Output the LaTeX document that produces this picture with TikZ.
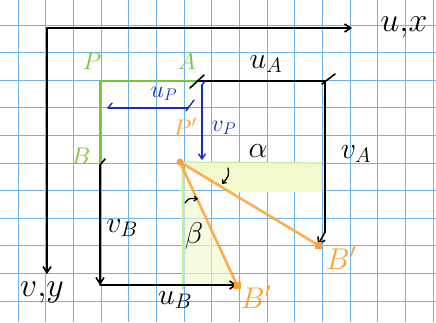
\RequirePackage{fix-cm}
\documentclass[tikz,border=0pt]{standalone}
\usetikzlibrary{arrows.meta}
\definecolor{gridblue}{RGB}{110,180,235}
\definecolor{pgreen}{RGB}{115,200,55}
\definecolor{porange}{RGB}{255,160,50}
\definecolor{pblue}{RGB}{25,45,185}
\definecolor{shadecol}{RGB}{242,250,205}
\definecolor{faintgreen}{RGB}{195,238,150}
\begin{document}
\begin{tikzpicture}[x=1pt,y=-1pt,
  gridline/.style={gridblue,line width=0.9pt},
  ink/.style={black,line width=1.6pt,line cap=round},
  greenline/.style={pgreen,line width=2.2pt},
  blueline/.style={pblue,line width=1.4pt,line cap=round},
  orangeline/.style={porange,line width=2.6pt,opacity=0.85,line cap=round},
  tip/.style={-{Straight Barb[length=6pt,width=8pt]}},
  dot/.style={fill=porange,inner sep=0pt,minimum size=7pt,draw=none},
  lab/.style={inner sep=0pt,font=\fontsize{30}{32}\selectfont},
  biglab/.style={inner sep=0pt,font=\fontsize{34}{36}\selectfont},
  smalllab/.style={inner sep=0pt,font=\fontsize{24}{26}\selectfont}]
\useasboundingbox (0,0) rectangle (436,322);
\fill[white] (0,0) rectangle (436,322);
% grid
\foreach \i in {0,...,15} \draw[gridline] ({18+27.67*\i},0) -- ++(0,322);
\foreach \j in {0,...,10} \draw[gridline] (0,{25+27.6*\j}) -- ++(436,0);
% points
\coordinate (O) at (47,28);
\coordinate (Xe) at (352,28);
\coordinate (Ye) at (47,274);
\coordinate (P) at (100,81);
\coordinate (A) at (197,81);
\coordinate (B) at (100,163);
\coordinate (Ac) at (325,81);
\coordinate (Ad) at (325,232);
\coordinate (Pp) at (180,162);
\coordinate (Ap) at (318,245);
\coordinate (Bp) at (237,285);
\coordinate (Bt) at (100,165);
\coordinate (Bc) at (100,285);
\coordinate (H) at (322,163);
\coordinate (V) at (183,290);
% shading
\fill[shadecol] (Pp) -- (H) -- (322,192) -- (230,192) -- cycle;
\fill[shadecol,opacity=0.6] (Pp) -- (Bp) -- (183,285) -- cycle;
\draw[faintgreen,line width=1.2pt] (Pp) -- (H);
\draw[faintgreen,line width=1.2pt] (183,163) -- (V);
% axes
\draw[ink,tip] (O) -- (Xe);
\draw[ink,tip] (O) -- (Ye);
\node[biglab] (ux) at (404,27) {$u{,}x$};
\node[biglab] (vy) at (42,292) {$v{,}y$};
% green segment
\draw[greenline] (A) -- (P) -- (B);
\node[smalllab,text=pgreen] (Pl) at (92,61) {$P$};
\node[smalllab,text=pgreen] (Al) at (187,61) {$A$};
\node[smalllab,text=pgreen] (Bl) at (81,156) {$B$};
% displacement of A
\draw[ink] (A) -- (Ac) -- (Ad);
\draw[ink,tip] (Ad) -- (Ap);
\draw[ink] (190,88) -- (204,75);
\draw[ink] (322,84) -- (335,74);
\node[lab] (uA) at (266,64) {$u_A$};
\node[lab] (vA) at (356,154) {$v_A$};
% displacement of B
\draw[ink,tip] (Bt) -- (Bc);
\draw[ink,tip] (Bc) -- (Bp);
\draw[ink] (100,165) -- (105,159);
\node[lab] (vB) at (122,228) {$v_B$};
\node[lab] (uB) at (175,300) {$u_B$};
% displacement of P
\coordinate (uP1) at (108,108);
\coordinate (uP2) at (188,108);
\coordinate (vP1) at (202,85);
\coordinate (vP2) at (202,160);
\draw[blueline] (uP1) -- (uP2);
\draw[blueline] (uP1) -- (112,103);
\draw[blueline] (186,111) -- (194,100);
\draw[blueline,-{Straight Barb[length=5pt,width=7pt]}] (vP1) -- (vP2);
\draw[blueline] (vP1) -- (205,81);
\node[smalllab,text=pblue] (uPl) at (164,94) {$u_P$};
\node[smalllab,text=pblue] (vPl) at (224,128) {$v_P$};
% rotated segment
\draw[orangeline] (Pp) -- (Ap);
\draw[orangeline] (Pp) -- (Bp);
\node[dot,circle] (PpD) at (Pp) {};
\node[dot] (ApD) at (Ap) {};
\node[dot] (BpD) at (Bp) {};
\node[smalllab,text=porange] (Ppl) at (185,127) {$P'$};
\node[lab,text=porange] (Apl) at (341,258) {$B'$};
\node[lab,text=porange] (Bpl) at (256,297) {$B'$};
% angles
\node[lab] (al) at (258,151) {$\alpha$};
\node[lab] (be) at (194,236) {$\beta$};
\coordinate (a1) at (228,168);
\coordinate (a2) at (222,184);
\coordinate (b1) at (185,203);
\coordinate (b2) at (198,199);
\draw[ink,line width=1.3pt,-{Straight Barb[length=3pt,width=5pt]}] (a1) .. controls (229,176) .. (a2);
\draw[ink,line width=1.3pt,-{Straight Barb[length=3pt,width=5pt]}] (b1) .. controls (189,198) .. (b2);
\end{tikzpicture}
\end{document}
